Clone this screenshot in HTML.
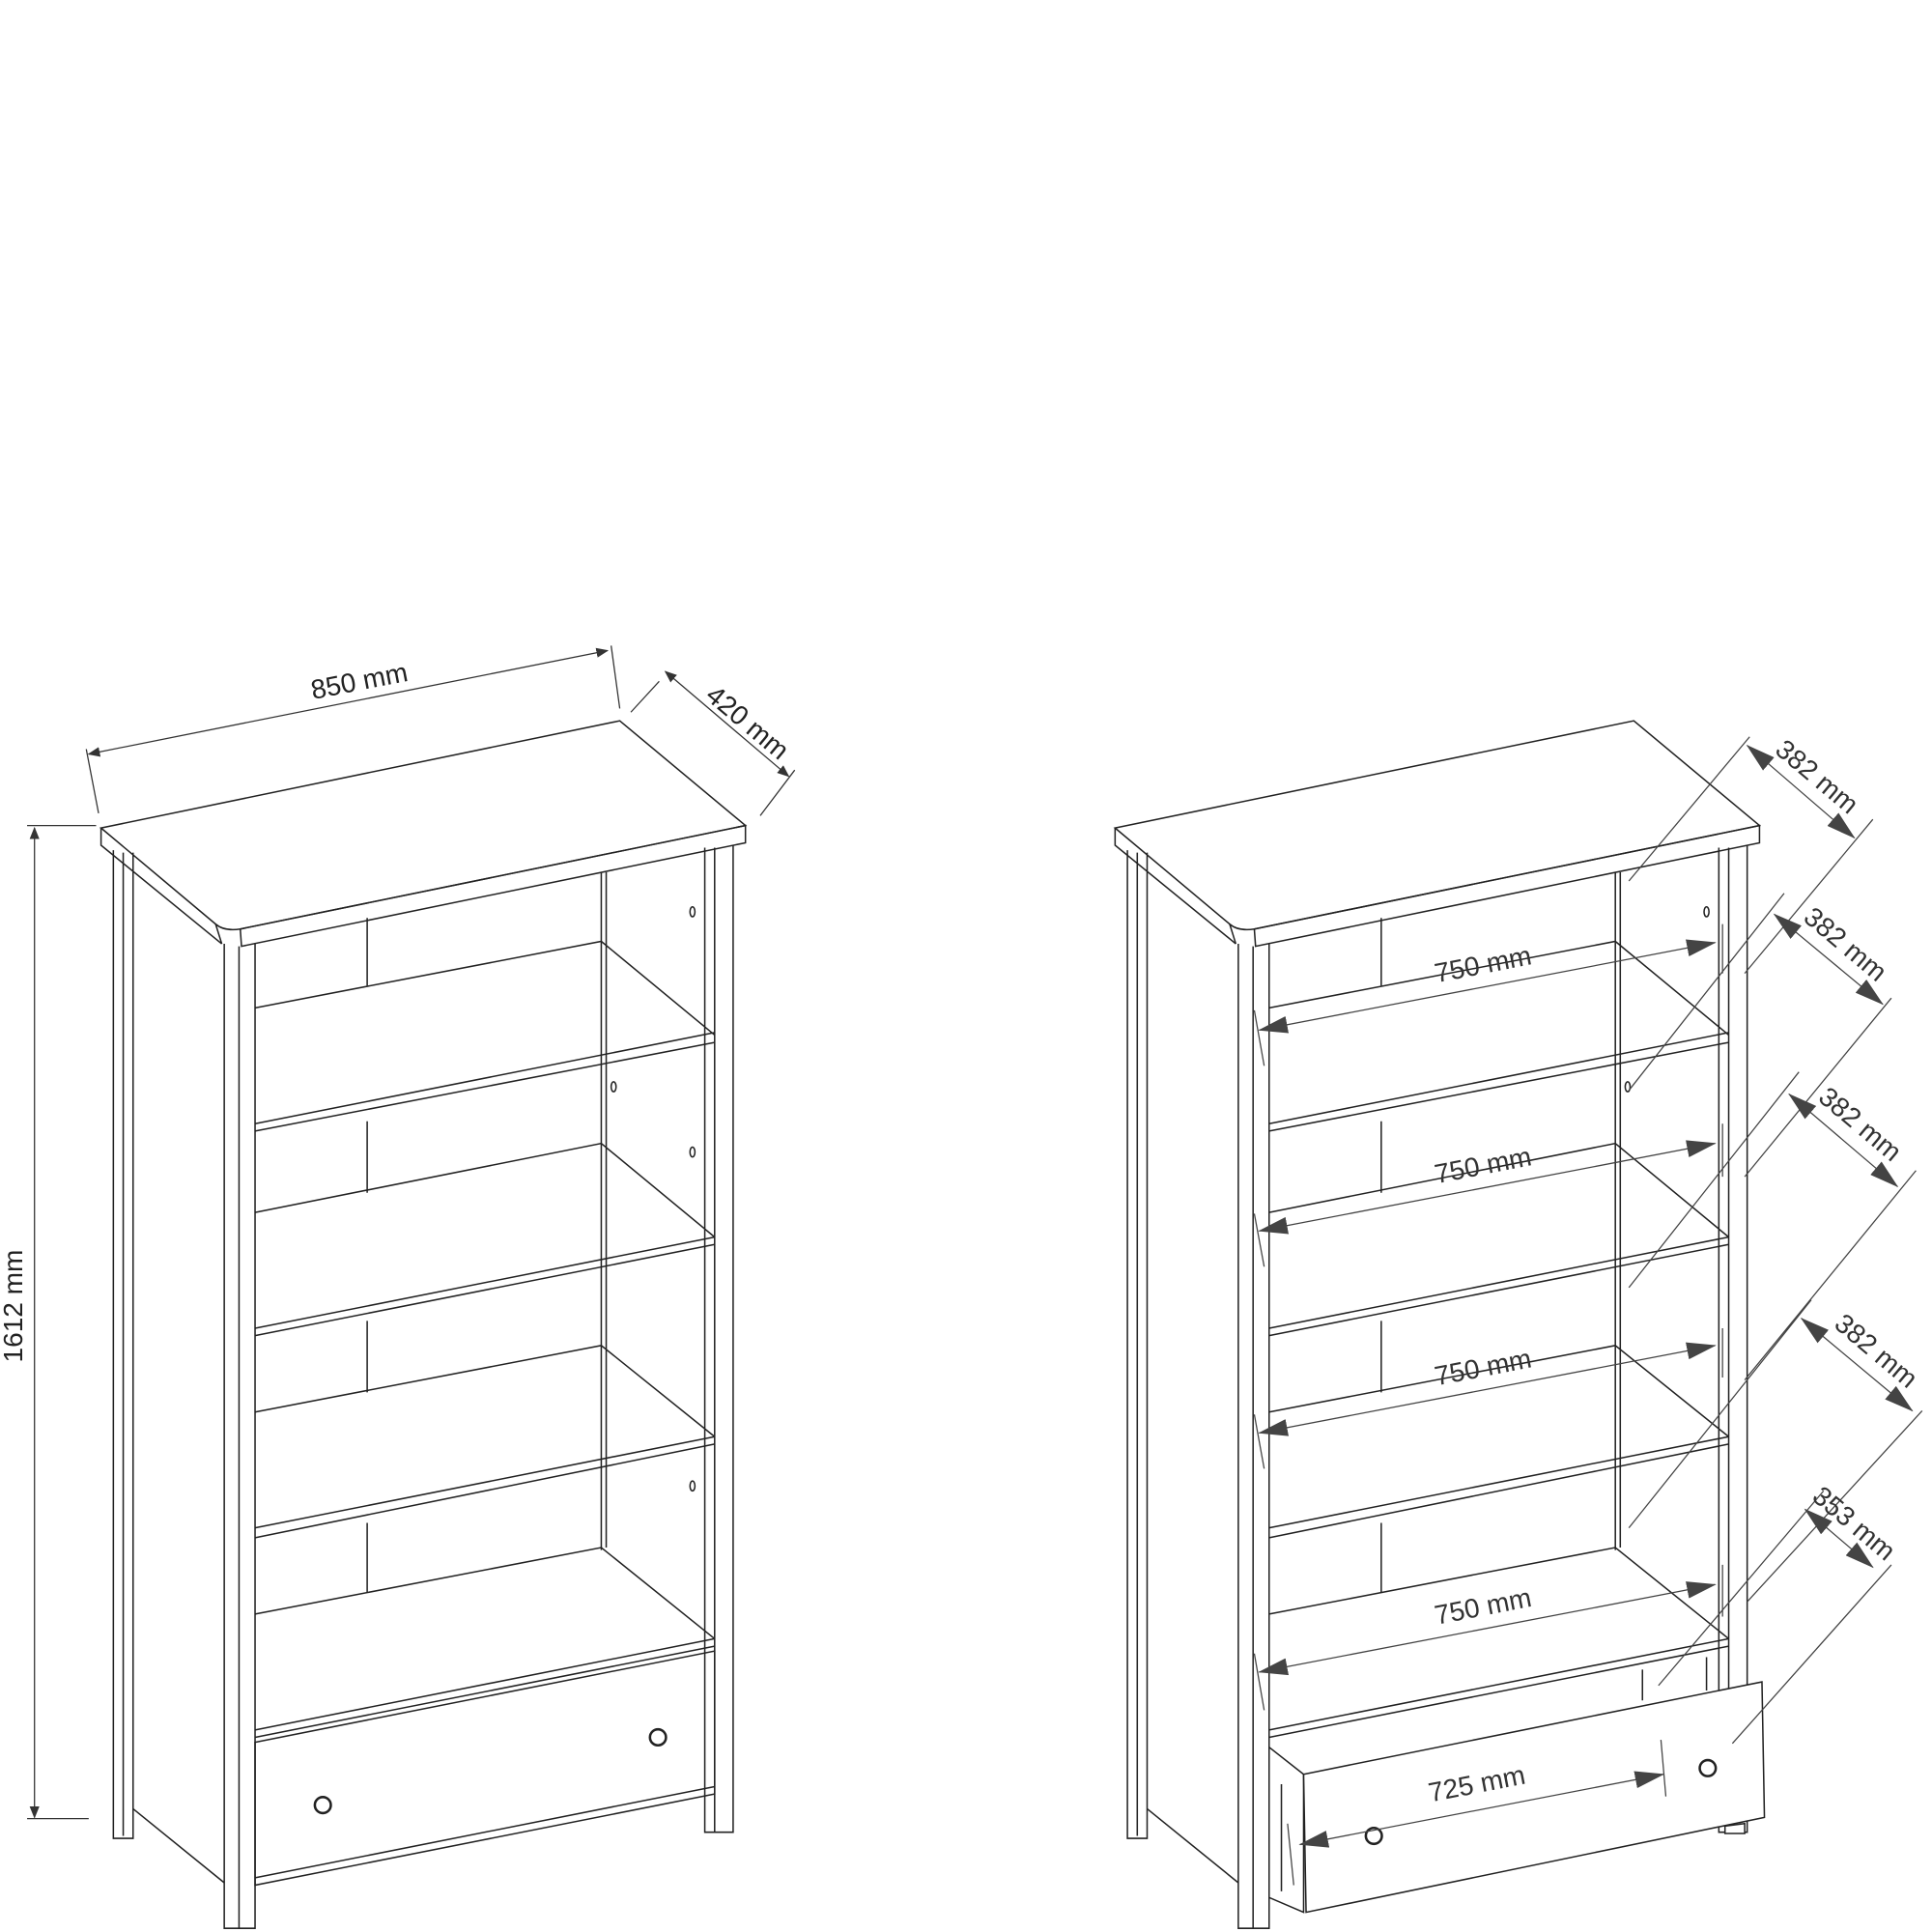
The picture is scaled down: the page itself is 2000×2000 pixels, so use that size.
<!DOCTYPE html>
<html><head><style>html,body{margin:0;padding:0;background:#fff}svg{display:block}</style></head>
<body>
<svg width="2000" height="2000" viewBox="0 0 1568 1568" xmlns="http://www.w3.org/2000/svg" font-family="Liberation Sans, sans-serif">
<defs>
<marker id="a" markerWidth="10" markerHeight="8" refX="9" refY="4" orient="auto-start-reverse" markerUnits="userSpaceOnUse"><path d="M0,0 L10,4 L0,8z" fill="#333"/></marker>
<marker id="b" markerWidth="24" markerHeight="14" refX="23" refY="7" orient="auto-start-reverse" markerUnits="userSpaceOnUse"><path d="M0,0 L24,7 L0,14z" fill="#444"/></marker>
<g id="case" fill="none" stroke="#222" stroke-width="1.2">
<path d="M82,672 L503,585 L605,670 L195,754 Q182,756 175,750 Z" fill="#fff"/>
<path d="M195,754 L605,670 L605,684 L196,768 Z M82,672 L82,686 L180,766 M175,750 L180,766"/>
<path d="M92,690 L92,1492 L108,1492 L108,692 M100,692 L100,1490"/>
<path d="M108,1468 L182,1528"/>
<path d="M182,766 L182,1565 L207,1565 L207,766 M194,768 L194,1565"/>
<path d="M572,688 L572,1487 L595,1487 L595,686 M580,688 L580,1487"/>
<path d="M488,708 L488,1258 M492,708 L492,1256"/>
<path d="M298,745 L298,800 M298,910 L298,968 M298,1072 L298,1130 M298,1236 L298,1292"/>
<path d="M207,818 L488,764 L580,840 M207,912 L580,838 M207,918 L580,846"/>
<path d="M207,984 L488,928 L580,1004 M207,1078 L580,1004 M207,1084 L580,1010"/>
<path d="M207,1146 L488,1092 L580,1166 M207,1240 L580,1166 M207,1248 L580,1172"/>
<path d="M207,1310 L488,1256 L580,1330 M207,1404 L580,1330 M207,1410 L580,1336"/>
</g>
</defs>

<use href="#case"/>
<g fill="none" stroke="#222" stroke-width="1.2">
<path d="M207,1414 L580,1340 L580,1456 L207,1530 Z M207,1524 L580,1450"/>
<circle cx="262" cy="1465" r="6.5" stroke-width="2"/>
<circle cx="534" cy="1410" r="6.5" stroke-width="2"/>
<ellipse cx="562" cy="740" rx="2" ry="4"/><ellipse cx="498" cy="882" rx="2" ry="4"/><ellipse cx="562" cy="935" rx="2" ry="4"/><ellipse cx="562" cy="1206" rx="2" ry="4"/>
</g>
<g stroke="#333" stroke-width="1" fill="none">
<path d="M72,612 L493,528" marker-start="url(#a)" marker-end="url(#a)"/>
<path d="M70,608 L80,660 M496,524 L503,575"/>
<path d="M540,545 L640,630" marker-start="url(#a)" marker-end="url(#a)"/>
<path d="M535,553 L512,578 M645,625 L617,662"/>
<path d="M28,672 L28,1475" marker-start="url(#a)" marker-end="url(#a)"/>
<path d="M22,670 L78,670 M22,1476 L72,1476"/>
</g>
<g fill="#222" font-size="22">
<text x="293" y="560" text-anchor="middle" transform="rotate(-11 293 560)">850 mm</text>
<text x="602" y="592" text-anchor="middle" transform="rotate(40 602 592)">420 mm</text>
<text x="18" y="1060" text-anchor="middle" transform="rotate(-90 18 1060)">1612 mm</text>
</g>

<g transform="translate(823,0)"><use href="#case"/></g>
<g fill="#fff" stroke="#222" stroke-width="1.2">
<path d="M1030,1418 L1030,1540 L1058,1552 L1058,1440 Z"/>
<path d="M1058,1440 L1430,1365 L1432,1475 L1060,1552 Z"/>
<path d="M1400,1482 L1416,1480 L1416,1488 L1400,1488 Z"/>
<path d="M1040,1448 L1040,1535 M1333,1355 L1333,1380 M1385,1345 L1385,1372" fill="none"/>
<circle cx="1115" cy="1490" r="6.5" stroke-width="2"/>
<circle cx="1386" cy="1435" r="6.5" stroke-width="2"/>
<ellipse cx="1385" cy="740" rx="2" ry="4"/><ellipse cx="1321" cy="882" rx="2" ry="4"/>
</g>
<g stroke="#444" stroke-width="1" fill="none">
<path d="M1392,765 L1022,836" marker-start="url(#b)" marker-end="url(#b)"/>
<path d="M1392,928 L1022,999" marker-start="url(#b)" marker-end="url(#b)"/>
<path d="M1392,1092 L1022,1163" marker-start="url(#b)" marker-end="url(#b)"/>
<path d="M1392,1286 L1022,1357" marker-start="url(#b)" marker-end="url(#b)"/>
<path d="M1350,1440 L1055,1497" marker-start="url(#b)" marker-end="url(#b)"/>
<path d="M1018,820 L1026,865 M1018,985 L1026,1028 M1018,1148 L1026,1192 M1018,1342 L1026,1388 M1398,750 L1398,790 M1398,912 L1398,955 M1398,1078 L1398,1118 M1398,1270 L1398,1312 M1348,1412 L1352,1458 M1045,1480 L1050,1530"/>
<path d="M1418,605 L1505,680" marker-start="url(#b)" marker-end="url(#b)"/>
<path d="M1440,742 L1528,815" marker-start="url(#b)" marker-end="url(#b)"/>
<path d="M1452,888 L1540,963" marker-start="url(#b)" marker-end="url(#b)"/>
<path d="M1462,1070 L1552,1145" marker-start="url(#b)" marker-end="url(#b)"/>
<path d="M1465,1225 L1520,1272" marker-start="url(#b)" marker-end="url(#b)"/>
<path d="M1420,598 L1322,715 M1520,665 L1416,790 M1448,725 L1322,885 M1535,810 L1416,955 M1460,870 L1322,1045 M1555,950 L1416,1120 M1470,1055 L1322,1240 M1560,1145 L1418,1300 M1480,1210 L1346,1368 M1535,1270 L1406,1415"/>
</g>
<g fill="#333" font-size="22">
<text x="1205" y="790" text-anchor="middle" transform="rotate(-11 1205 790)">750 mm</text>
<text x="1205" y="953" text-anchor="middle" transform="rotate(-11 1205 953)">750 mm</text>
<text x="1205" y="1117" text-anchor="middle" transform="rotate(-11 1205 1117)">750 mm</text>
<text x="1205" y="1311" text-anchor="middle" transform="rotate(-11 1205 1311)">750 mm</text>
<text x="1200" y="1455" text-anchor="middle" transform="rotate(-11 1200 1455)">725 mm</text>
<text x="1470" y="636" text-anchor="middle" transform="rotate(40 1470 636)">382 mm</text>
<text x="1493" y="772" text-anchor="middle" transform="rotate(40 1493 772)">382 mm</text>
<text x="1505" y="918" text-anchor="middle" transform="rotate(40 1505 918)">382 mm</text>
<text x="1518" y="1102" text-anchor="middle" transform="rotate(40 1518 1102)">382 mm</text>
<text x="1500" y="1242" text-anchor="middle" transform="rotate(40 1500 1242)">353 mm</text>
</g>
</svg>
</body></html>
